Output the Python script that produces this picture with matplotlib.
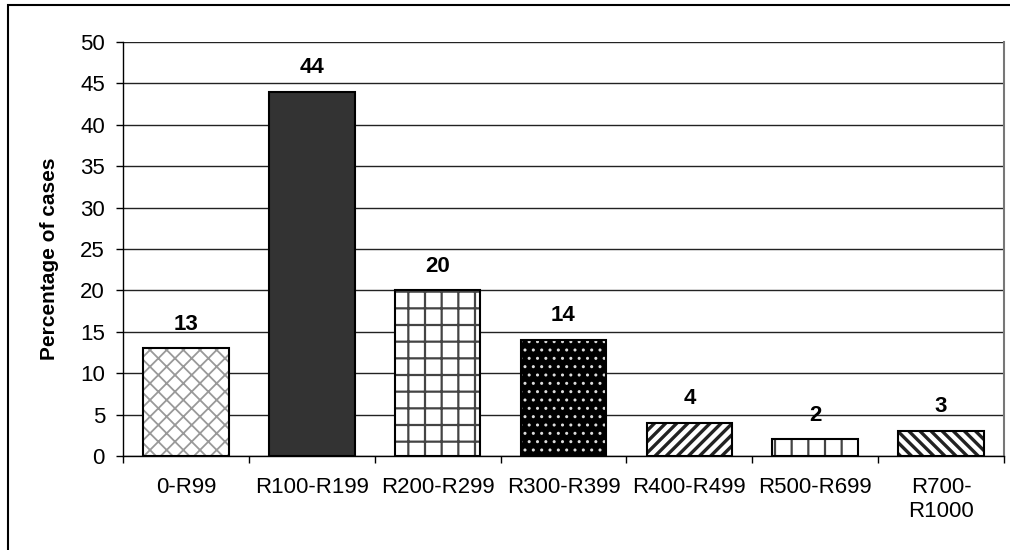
import matplotlib
matplotlib.use("Agg")
import matplotlib.pyplot as plt
from matplotlib.patches import Rectangle

plt.rcParams['font.family'] = ['Liberation Sans', 'DejaVu Sans']
plt.rcParams['hatch.linewidth'] = 1.5

categories = ["0-R99", "R100-R199", "R200-R299", "R300-R399", "R400-R499", "R500-R699", "R700-\nR1000"]
values = [13, 44, 20, 14, 4, 2, 3]
yticks = [0, 5, 10, 15, 20, 25, 30, 35, 40, 45, 50]

faces = ["white", "#333333", "white", "black", "white", "white", "white"]
hatches = ["xx", None, "+", "..", "///", "|", "\\\\\\"]
hatch_colors = ["#999999", "#333333", "#444444", "#dddddd", "#222222", "#444444", "#222222"]
hatch_widths = [1.3, 1.0, 1.6, 1.0, 2.4, 1.6, 2.4]

fig = plt.figure(figsize=(10.10, 5.50), dpi=100)
ax = fig.add_axes([123/1010, 1 - 456/550, (1004 - 123)/1010, (456 - 42)/550])

x = list(range(len(categories)))
for i, (v, fc, h, hc, hw) in enumerate(zip(values, faces, hatches, hatch_colors, hatch_widths)):
    with plt.rc_context({'hatch.linewidth': hw}):
        bars = ax.bar(x[i], v, width=0.68, color=fc, edgecolor=hc, hatch=h, linewidth=0, zorder=3)
    for b in bars:
        if hasattr(b, "set_hatch_linewidth"):
            b.set_hatch_linewidth(hw)
    ax.bar(x[i], v, width=0.68, fill=False, edgecolor="black", linewidth=1.5, zorder=4)
    ax.annotate(str(v), (x[i], v), xytext=(0, 13.5), textcoords="offset points",
                ha="center", va="baseline", fontsize=16, fontweight="bold", zorder=5)

ax.set_xlim(-0.5, len(categories) - 0.5)
ax.set_ylim(0, 50)
ax.set_yticks(yticks)
ax.set_yticklabels([str(t) for t in yticks], fontsize=16)
ax.set_xticks(x)
ax.set_xticklabels(categories, fontsize=16, linespacing=1.2)
ax.set_xticks([i + 0.5 for i in range(-1, len(categories))], minor=True)
ax.tick_params(axis="x", which="major", length=0, pad=15)
ax.tick_params(axis="x", which="minor", length=5, width=1, direction="out")
ax.tick_params(axis="y", length=5, width=1, direction="out", pad=8)
ax.grid(axis="y", color="#222222", linewidth=1, zorder=0)
ax.set_axisbelow(True)
for s in ["top", "right"]:
    ax.spines[s].set_visible(False)
ax.spines["left"].set_linewidth(1)
ax.spines["bottom"].set_linewidth(1)
ax.plot([1, 1], [0, 1], transform=ax.transAxes, color="#777777", linewidth=1.5, clip_on=False)

ax.set_ylabel("Percentage of cases", fontsize=15, fontweight="bold")
ax.yaxis.set_label_coords(50/1010, 1 - 259/550, transform=fig.transFigure)
ax.yaxis.label.set_va("center")

fig.patches.append(Rectangle((8/1010, -0.1), 1.2, (550 - 5)/550 + 0.1, transform=fig.transFigure,
                             fill=False, edgecolor="black", linewidth=1.5))

fig.savefig("out.png", dpi=100)
